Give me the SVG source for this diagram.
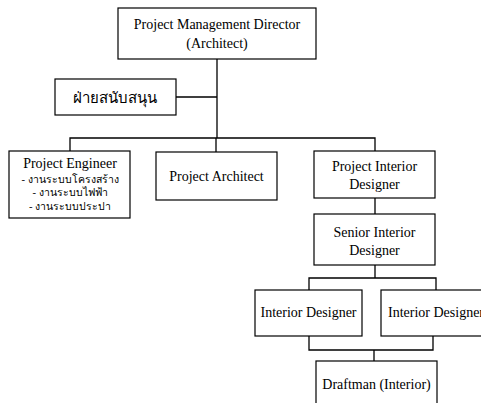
<svg xmlns="http://www.w3.org/2000/svg" width="481" height="403" viewBox="0 0 481 403">
<style>
.box{fill:#fff;stroke:#000;stroke-width:1.2}
.t{font-family:"Liberation Serif","Times New Roman",serif;font-size:14px;fill:#000;text-anchor:middle}
.th{font-family:"Liberation Serif","DejaVu Sans",serif;font-size:15px;fill:#000;text-anchor:middle}
.ths{font-family:"Liberation Serif","DejaVu Sans",serif;font-size:10.5px;fill:#000;text-anchor:middle}
.c{fill:none;stroke:#000;stroke-width:1.3}
</style>
<rect width="481" height="403" fill="#fff"/>
<g id="connectors">
<path class="c" d="M217 59V138M176 97H217M70 151V138H375V151M216 138V152M375 198V214M375 265V278M309 290V278H436V290M309 336V350H433V336M374 350V361"/>
</g>
<g id="pmd"><rect class="box" x="118" y="8" width="198" height="51"/><text class="t" x="217" y="29">Project Management Director</text><text class="t" x="217" y="48">(Architect)</text></g>
<g id="support"><rect class="box" x="55" y="79" width="121" height="36"/><text class="th" x="115" y="103">ฝ่ายสนับสนุน</text></g>
<g id="engineer"><rect class="box" x="9" y="151" width="121" height="67"/><text class="t" x="70" y="168">Project Engineer</text><text class="ths" x="70" y="183">- งานระบบโครงสร้าง</text><text class="ths" x="70" y="196">- งานระบบไฟฟ้า</text><text class="ths" x="70" y="210">- งานระบบประปา</text></g>
<g id="architect"><rect class="box" x="156" y="152" width="121" height="48"/><text class="t" x="216.5" y="181">Project Architect</text></g>
<g id="pid"><rect class="box" x="314" y="151" width="121" height="47"/><text class="t" x="374.5" y="171">Project Interior</text><text class="t" x="374.5" y="189">Designer</text></g>
<g id="sid"><rect class="box" x="314" y="214" width="121" height="51"/><text class="t" x="374.5" y="237">Senior Interior</text><text class="t" x="374.5" y="255">Designer</text></g>
<g id="id1"><rect class="box" x="255" y="290" width="107" height="46"/><text class="t" x="308.5" y="317">Interior Designer</text></g>
<g id="id2"><rect class="box" x="381" y="290" width="110" height="46"/><text class="t" x="436" y="317">Interior Designer</text></g>
<g id="draftman"><rect class="box" x="316" y="361" width="121" height="50"/><text class="t" x="376.5" y="389">Draftman (Interior)</text></g>
</svg>
